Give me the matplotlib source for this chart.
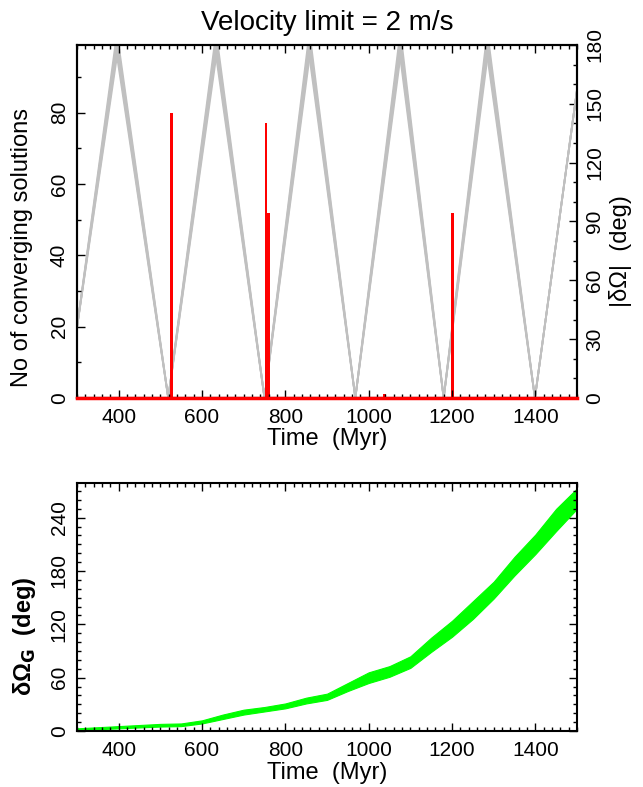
"""Velocity limit = 2 m/s: converging solutions vs |dOmega|, and dOmega_G growth."""

import matplotlib
matplotlib.use("Agg")
import matplotlib.pyplot as plt
from matplotlib.ticker import MultipleLocator

plt.rcParams["font.family"] = ["Liberation Sans", "DejaVu Sans"]
plt.rcParams["mathtext.fontset"] = "dejavusans"

# ================== Data ==================
# |dOmega| triangle wave (deg) - vertex times (Myr) and values.
WAVE_T = [300, 396, 519, 634, 750, 858, 968, 1076, 1180, 1285, 1399, 1500]
WAVE_DEG = [36, 180, 0, 180, 0, 180, 0, 180, 0, 180, 0, 157]
# spread of peak times among the solutions (Myr)
PEAK_SPREAD = [-4, -2, 0, 2, 4]

# Histogram of converging solutions (bin left edge, count).
BIN_WIDTH = 6
BIN_LEFT = [524, 751, 757, 1035, 1198]
BIN_COUNT = [80, 77, 52, 1, 52]

# dOmega_G band (deg): lower and upper envelope.
G_T = [300, 400, 500, 550, 600, 650, 700, 750, 800, 850, 900, 950,
       1000, 1050, 1100, 1150, 1200, 1250, 1300, 1350, 1400, 1450, 1500]
G_LO = [1, 3, 5, 5.5, 8.5, 13.5, 18.5, 22, 25.5, 31, 35, 45,
        54, 61, 71, 89, 106, 126, 149, 175, 199, 225, 250]
G_HI = [3, 5.5, 8, 8.5, 12, 18.5, 24, 27, 31, 37.5, 42, 54,
        66, 73, 84, 105, 124, 146, 168, 196, 221, 250, 273]

TITLE = "Velocity limit = 2 m/s"
GREY = "#c0c0c0"
RED = "#ff0000"
GREEN = "#00ff00"

TICK_FS = 15
LABEL_FS = 17


def style_axis(ax, xmaj, xmin, ymaj, ymin, left=True, right=True):
    ax.xaxis.set_major_locator(MultipleLocator(xmaj))
    ax.xaxis.set_minor_locator(MultipleLocator(xmin))
    ax.yaxis.set_major_locator(MultipleLocator(ymaj))
    ax.yaxis.set_minor_locator(MultipleLocator(ymin))
    ax.tick_params(which="both", direction="in", top=True, bottom=True,
                   left=left, right=right, width=1.0, labelsize=TICK_FS)
    ax.tick_params(which="major", length=6)
    ax.tick_params(which="minor", length=3)
    ax.tick_params(axis="x", pad=7)
    ax.tick_params(axis="y", pad=6)
    for sp in ax.spines.values():
        sp.set_linewidth(1.5)


def rotate_ylabels(ax):
    for lbl in ax.get_yticklabels():
        lbl.set_rotation(90)
        lbl.set_va("center")


fig = plt.figure(figsize=(6.43, 7.87), dpi=100)

# ---------- top panel ----------
ax = fig.add_axes([77 / 643, 1 - 398 / 787, 500 / 643, 353 / 787])
axr = ax.twinx()

for dt in PEAK_SPREAD:
    tt = [t + (dt if v == 180 else 0) for t, v in zip(WAVE_T, WAVE_DEG)]
    axr.plot(tt, WAVE_DEG, color=GREY, lw=1.3, solid_joinstyle="miter")
axr.set_ylim(0, 180)

ax.bar(BIN_LEFT, BIN_COUNT, width=BIN_WIDTH, align="edge", color=RED,
       edgecolor="none")
ax.axhline(0, color=RED, lw=2.5, clip_on=False, zorder=5)
ax.set_xlim(300, 1500)
ax.set_ylim(0, 99)
ax.set_zorder(axr.get_zorder() + 1)
ax.patch.set_visible(False)

style_axis(ax, 200, 20, 20, 10, left=True, right=False)
style_axis(axr, 200, 20, 30, 10, left=False, right=True)
ax.set_yticks([0, 20, 40, 60, 80])
rotate_ylabels(ax)
rotate_ylabels(axr)

ax.set_title(TITLE, fontsize=20, pad=11)
ax.set_xlabel("Time  (Myr)", fontsize=LABEL_FS)
ax.xaxis.set_label_coords(0.5, -0.085)
ax.set_ylabel("No of converging solutions", fontsize=LABEL_FS)
ax.yaxis.set_label_coords(-0.088, 0.425)
axr.set_ylabel("|δΩ|  (deg)", fontsize=LABEL_FS)
axr.yaxis.set_label_coords(1.064, 0.416)

# ---------- bottom panel ----------
ax2 = fig.add_axes([77 / 643, 1 - 731 / 787, 500 / 643, 248 / 787])
ax2.fill_between(G_T, G_LO, G_HI, color=GREEN, lw=0.8, edgecolor=GREEN)
ax2.set_xlim(300, 1500)
ax2.set_ylim(0, 279)
style_axis(ax2, 200, 20, 60, 10)
rotate_ylabels(ax2)
ax2.set_xlabel("Time  (Myr)", fontsize=LABEL_FS)
ax2.xaxis.set_label_coords(0.5, -0.125)
ax2.set_ylabel("δΩ$_\\mathbf{G}$  (deg)", fontsize=LABEL_FS, fontweight="bold")
ax2.yaxis.set_label_coords(-0.078, 0.383)

fig.savefig("out.png", dpi=100)
